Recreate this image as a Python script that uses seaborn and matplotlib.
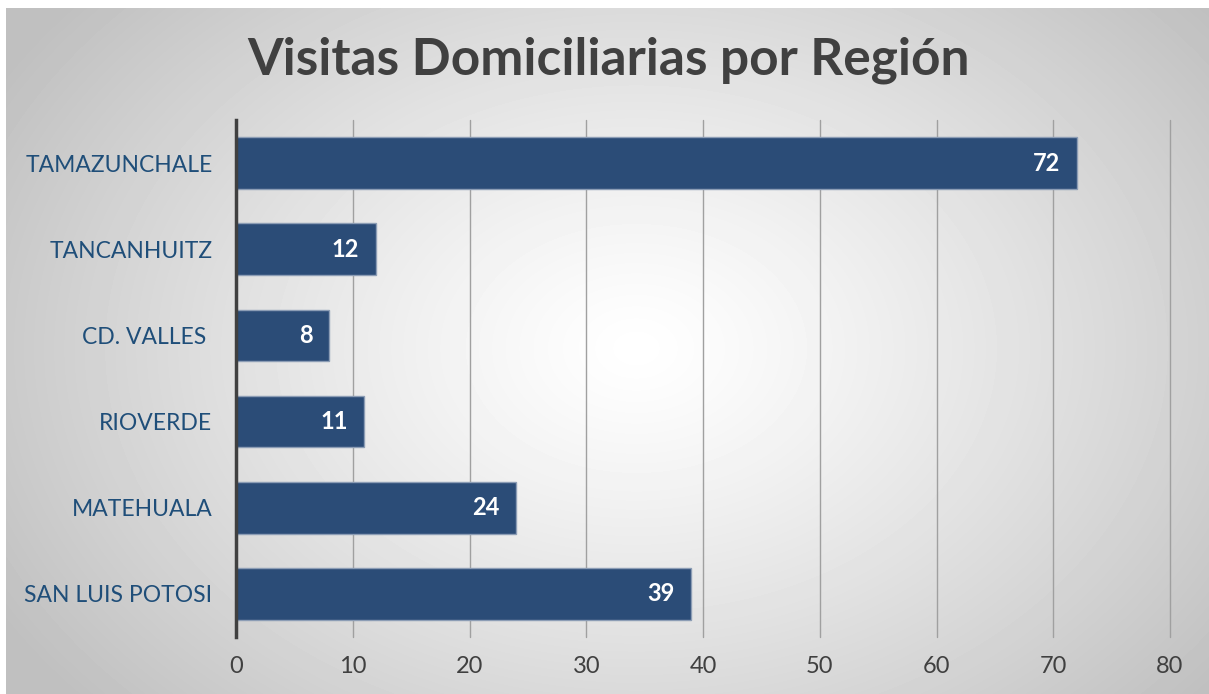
import numpy as np
import pandas as pd
import matplotlib
matplotlib.use("Agg")
import matplotlib.pyplot as plt
import seaborn as sns

# Data
regions = ["TAMAZUNCHALE", "TANCANHUITZ", "CD. VALLES ", "RIOVERDE", "MATEHUALA", "SAN LUIS POTOSI"]
visits = [72, 12, 8, 11, 24, 39]
x_ticks = [0, 10, 20, 30, 40, 50, 60, 70, 80]
title = "Visitas Domiciliarias por Región"

BAR_COLOR = "#2B4C77"
TITLE_COLOR = "#404040"
LABEL_COLOR = "#1F4E79"

sns.set_theme(style="white")
plt.rcParams["font.family"] = ["Lato", "DejaVu Sans"]

df = pd.DataFrame({"region": regions, "visits": visits})

W, H = 1209, 694
fig = plt.figure(figsize=(W / 100, H / 100), dpi=100)
fig.patch.set_facecolor("white")

# radial grey background panel
bg = fig.add_axes([6 / W, 0, 1 - 6 / W, 1 - 8 / H], zorder=-5)
yy, xx = np.mgrid[0:H - 8, 0:W - 6]
cx, cy = 630, 340
r = np.sqrt(((xx - cx) / 740.0) ** 2 + ((yy - cy) / 540.0) ** 2)
shade = 1.0 - 0.25 * np.clip(r, 0, 1) ** 1.2
bg.imshow(shade, cmap="gray", vmin=0, vmax=1, aspect="auto", interpolation="bilinear")
bg.set_axis_off()

ax = fig.add_axes([236 / W, 57 / H, (1170 - 236) / W, (637 - 120) / H])
ax.patch.set_alpha(0)

sns.barplot(data=df, x="visits", y="region", orient="h", color=BAR_COLOR,
            width=0.6, saturation=1, edgecolor="#8C9DB5", linewidth=1,
            ax=ax, zorder=3)

for patch, v in zip(ax.patches, visits):
    y = patch.get_y() + patch.get_height() / 2
    ax.annotate(str(v), xy=(patch.get_width(), y), xytext=(-12, 0),
                textcoords="offset points", ha="right", va="center",
                color="white", fontsize=17, fontweight="bold", zorder=4)

ax.set_xlim(0, 80)
ax.set_ylim(5.5, -0.5)
ax.set_xticks(x_ticks)
ax.set_xlabel("")
ax.set_ylabel("")
ax.grid(axis="x", color="#A0A0A0", linewidth=1, zorder=0)
ax.grid(axis="y", visible=False)
for gl in ax.get_xgridlines():
    gl.set_clip_on(False)
for side in ["top", "right", "bottom"]:
    ax.spines[side].set_visible(False)
ax.spines["left"].set_color("#404040")
ax.spines["left"].set_linewidth(2.5)
ax.spines["left"].set_zorder(5)
ax.tick_params(axis="x", length=0, pad=14, labelsize=17, labelcolor="#404040")
ax.tick_params(axis="y", length=0, pad=17, labelsize=16.5, labelcolor=LABEL_COLOR)

fig.text(609 / W, 1 - 60 / H, title, ha="center", va="center",
         fontsize=37, fontweight="bold", color=TITLE_COLOR)

fig.savefig("out.png", dpi=100)
